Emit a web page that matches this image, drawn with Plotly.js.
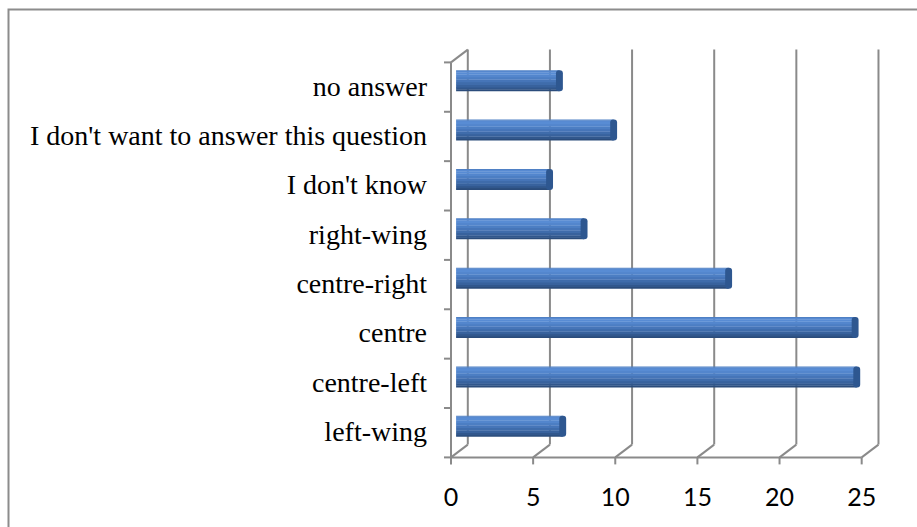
<!DOCTYPE html>
<html>
<head>
<meta charset="utf-8">
<script src="https://cdn.plot.ly/plotly-3.0.1.min.js"></script>
<style>html,body{margin:0;padding:0;background:#fff;}#chart{width:917px;height:527px;}</style>
</head>
<body>
<div id="chart"></div>
<script>
// ---- data ----
const categories = ['left-wing', 'centre-left', 'centre', 'centre-right', 'right-wing',
  "I don't know", "I don't want to answer this question", 'no answer'];
const values = [6.7, 24.6, 24.5, 16.8, 8.0, 5.9, 9.8, 6.5];
const tickValues = [0, 5, 10, 15, 20, 25];
const tickLabels = ['0', '5', '10', '15', '20', '25'];

// ---- geometry / style ----
const Wd = 917, Ht = 527, mL = 440, mR = 31, mT = 56, mB = 76;
const plotW = Wd - mL - mR, plotH = Ht - mT - mB;
const xRange = [-0.98, 26.17];
const pxU = plotW / (xRange[1] - xRange[0]);
const frontDX = -5.1 / pxU, backDX = 11.7 / pxU;
const frontDY = -6.4 / plotH, backDY = 6.4 / plotH;
const gridColor = '#8a8a8a';
const barW = 0.425;

const bands = [
  [0.00, 0.08, '#2b4c7b'],
  [0.08, 0.18, '#31578c'],
  [0.18, 0.30, '#38629d'],
  [0.30, 0.42, '#3f6cab'],
  [0.42, 0.54, '#4675b8'],
  [0.54, 0.66, '#4c7ec3'],
  [0.66, 0.78, '#5386cd'],
  [0.78, 0.88, '#588cd4'],
  [0.88, 0.95, '#578ad2'],
  [0.95, 1.00, '#4f80c4']
];
const capLen = 0.42;

const traces = bands.map((b, i) => ({
  type: 'bar', orientation: 'h',
  y: categories,
  x: values.map(v => v - capLen / 2),
  width: (b[1] - b[0]) * barW + (i < bands.length - 1 ? 0.006 : 0),
  offset: -barW / 2 + b[0] * barW,
  marker: {color: b[2], line: {width: 0}},
  hoverinfo: 'skip', showlegend: false
}));
traces.push({
  type: 'bar', orientation: 'h',
  y: categories,
  base: values.map(v => v - capLen),
  x: values.map(() => capLen),
  width: barW, offset: -barW / 2,
  marker: {color: '#2e5790', line: {width: 0}, cornerradius: 5},
  hoverinfo: 'skip', showlegend: false
});

// ---- 3D frame shapes ----
const shapes = [];
const ln = (x0, y0, x1, y1, xref) => ({
  type: 'line', xref: xref || 'x', yref: 'paper', x0, y0, x1, y1, layer: 'below',
  line: {color: gridColor, width: 2}
});
const frontFloor = 0 + frontDY, backFloor = 0 + backDY;
const frontTop = 1 + frontDY, backTop = 1 + backDY;
tickValues.forEach(t => {
  shapes.push(ln(t + backDX, backFloor, t + backDX, backTop));
  shapes.push(ln(t + frontDX, frontFloor, t + backDX, backFloor));
  shapes.push(ln(t + frontDX, frontFloor, t + frontDX, frontFloor - 7 / plotH));
});
shapes.push(ln(frontDX, frontFloor, tickValues[tickValues.length - 1] + frontDX, frontFloor));
shapes.push(ln(frontDX, frontFloor, frontDX, frontTop));
shapes.push(ln(frontDX, frontTop, backDX, backTop));
for (let k = 0; k <= categories.length; k++) {
  const yb = k / categories.length + frontDY;
  shapes.push(ln(frontDX, yb, frontDX - 7 / pxU, yb));
}
// outer chart border
shapes.push({
  type: 'rect', xref: 'paper', yref: 'paper',
  x0: (8.5 - mL) / plotW, x1: 2, y0: -1, y1: (Ht - mB - 9.5) / plotH,
  line: {color: '#8c8c8c', width: 2}, fillcolor: 'rgba(0,0,0,0)', layer: 'below'
});

const layout = {
  width: Wd, height: Ht,
  margin: {l: mL, r: mR, t: mT, b: mB, pad: 0},
  paper_bgcolor: '#ffffff', plot_bgcolor: 'rgba(0,0,0,0)',
  barmode: 'overlay',
  showlegend: false,
  xaxis: {
    range: xRange, showgrid: false, zeroline: false, showline: false, ticks: '',
    tickmode: 'array', tickvals: tickValues.map(t => t + frontDX), ticktext: tickLabels,
    ticklabelstandoff: 29,
    tickfont: {family: 'Lato, "Open Sans", sans-serif', size: 25, color: '#000'},
    fixedrange: true
  },
  yaxis: {
    type: 'category', range: [-0.5, categories.length - 0.5],
    categoryorder: 'array', categoryarray: categories,
    showgrid: false, zeroline: false, showline: false, ticks: '',
    ticklabelshift: 5, ticklabelstandoff: 12,
    tickfont: {family: '"Liberation Serif", "Times New Roman", serif', size: 28, color: '#000'},
    fixedrange: true
  },
  shapes: shapes
};

Plotly.newPlot('chart', traces, layout, {displayModeBar: false, staticPlot: true});
</script>
</body>
</html>
